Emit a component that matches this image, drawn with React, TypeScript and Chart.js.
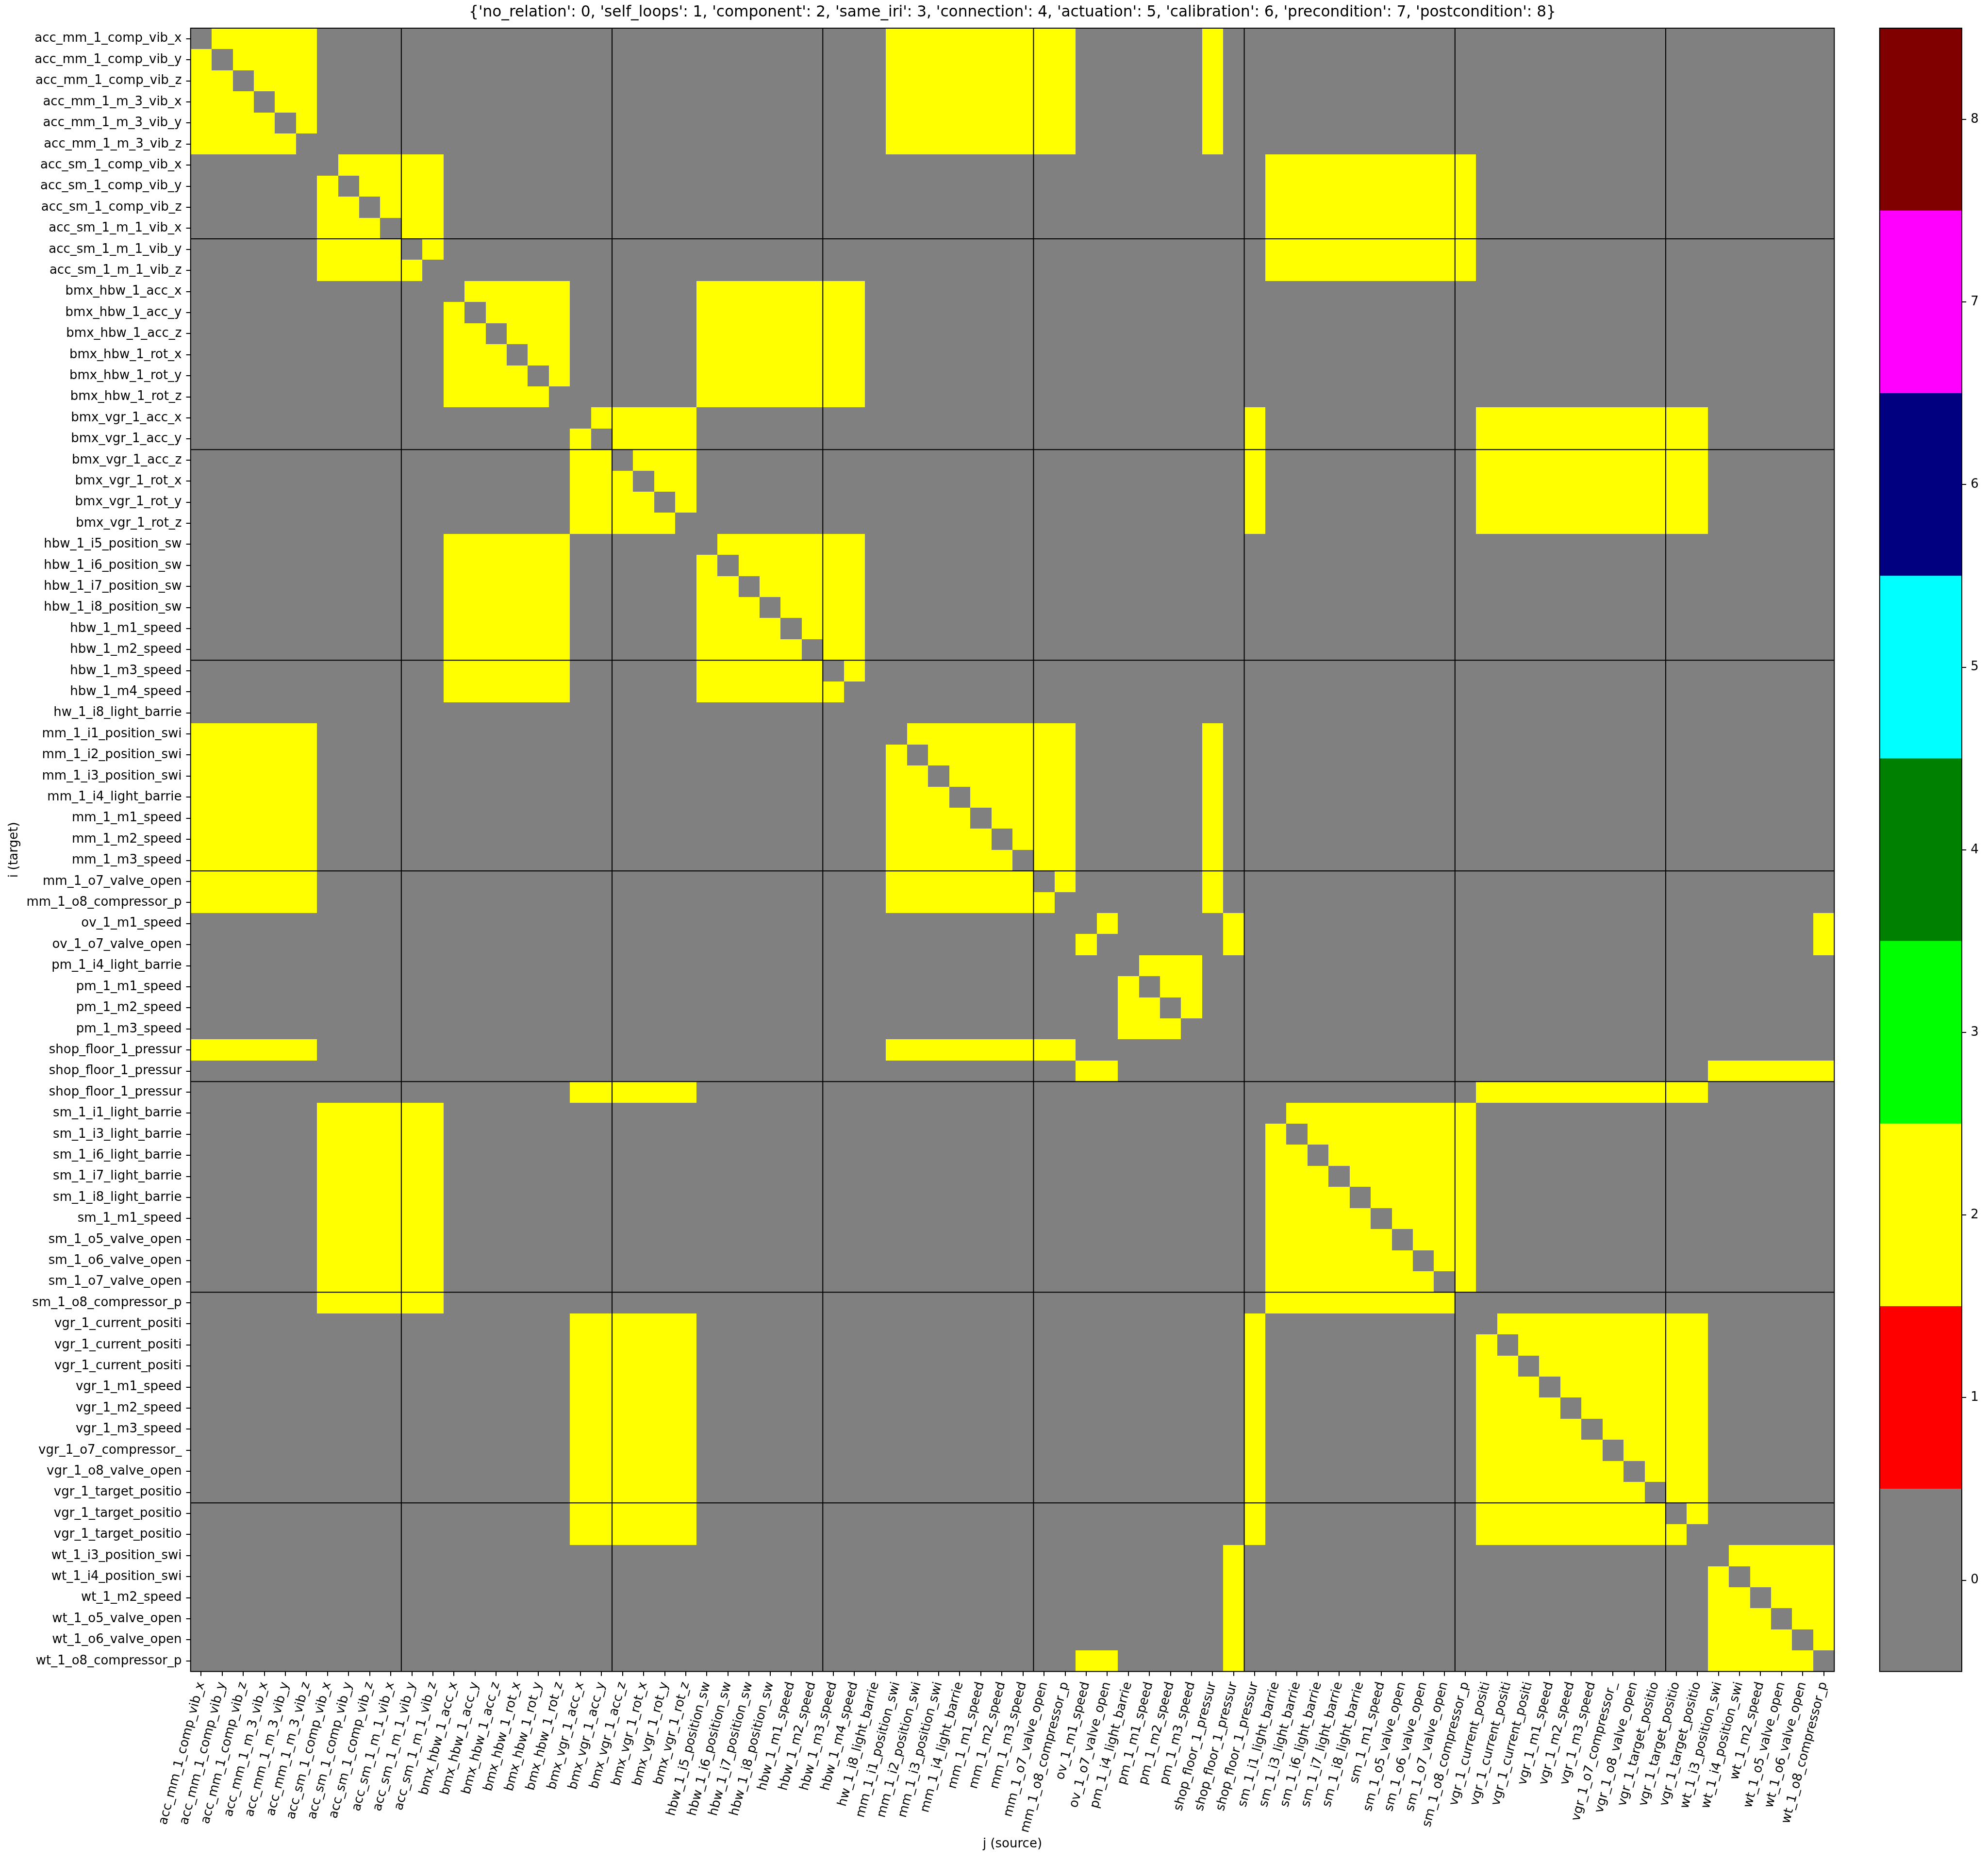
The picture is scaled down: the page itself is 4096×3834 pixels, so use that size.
import React, { useEffect, useRef } from 'react';
import { Chart, registerables } from 'chart.js';

Chart.register(...registerables);

// ---------------- data ----------------
const TITLE =
  "{'no_relation': 0, 'self_loops': 1, 'component': 2, 'same_iri': 3, 'connection': 4, 'actuation': 5, 'calibration': 6, 'precondition': 7, 'postcondition': 8}";
const X_TITLE = 'j (source)';
const Y_TITLE = 'i (target)';

const LABELS: string[] = [
  'acc_mm_1_comp_vib_x', 'acc_mm_1_comp_vib_y', 'acc_mm_1_comp_vib_z',
  'acc_mm_1_m_3_vib_x', 'acc_mm_1_m_3_vib_y', 'acc_mm_1_m_3_vib_z',
  'acc_sm_1_comp_vib_x', 'acc_sm_1_comp_vib_y', 'acc_sm_1_comp_vib_z',
  'acc_sm_1_m_1_vib_x', 'acc_sm_1_m_1_vib_y', 'acc_sm_1_m_1_vib_z',
  'bmx_hbw_1_acc_x', 'bmx_hbw_1_acc_y', 'bmx_hbw_1_acc_z',
  'bmx_hbw_1_rot_x', 'bmx_hbw_1_rot_y', 'bmx_hbw_1_rot_z',
  'bmx_vgr_1_acc_x', 'bmx_vgr_1_acc_y', 'bmx_vgr_1_acc_z',
  'bmx_vgr_1_rot_x', 'bmx_vgr_1_rot_y', 'bmx_vgr_1_rot_z',
  'hbw_1_i5_position_sw', 'hbw_1_i6_position_sw', 'hbw_1_i7_position_sw', 'hbw_1_i8_position_sw',
  'hbw_1_m1_speed', 'hbw_1_m2_speed', 'hbw_1_m3_speed', 'hbw_1_m4_speed',
  'hw_1_i8_light_barrie',
  'mm_1_i1_position_swi', 'mm_1_i2_position_swi', 'mm_1_i3_position_swi', 'mm_1_i4_light_barrie',
  'mm_1_m1_speed', 'mm_1_m2_speed', 'mm_1_m3_speed', 'mm_1_o7_valve_open', 'mm_1_o8_compressor_p',
  'ov_1_m1_speed', 'ov_1_o7_valve_open',
  'pm_1_i4_light_barrie', 'pm_1_m1_speed', 'pm_1_m2_speed', 'pm_1_m3_speed',
  'shop_floor_1_pressur', 'shop_floor_1_pressur', 'shop_floor_1_pressur',
  'sm_1_i1_light_barrie', 'sm_1_i3_light_barrie', 'sm_1_i6_light_barrie', 'sm_1_i7_light_barrie',
  'sm_1_i8_light_barrie', 'sm_1_m1_speed', 'sm_1_o5_valve_open', 'sm_1_o6_valve_open',
  'sm_1_o7_valve_open', 'sm_1_o8_compressor_p',
  'vgr_1_current_positi', 'vgr_1_current_positi', 'vgr_1_current_positi',
  'vgr_1_m1_speed', 'vgr_1_m2_speed', 'vgr_1_m3_speed', 'vgr_1_o7_compressor_', 'vgr_1_o8_valve_open',
  'vgr_1_target_positio', 'vgr_1_target_positio', 'vgr_1_target_positio',
  'wt_1_i3_position_swi', 'wt_1_i4_position_swi', 'wt_1_m2_speed', 'wt_1_o5_valve_open',
  'wt_1_o6_valve_open', 'wt_1_o8_compressor_p',
];

// relation codes, one string per row i (target); characters are columns j (source)
// (spaces only separate groups for readability)
const MATRIX_ROWS: string[] = [
  '022222 000000 000000 000000 00000000 0 222222222 00 0000 200 0000000000 00000000000 000000',
  '202222 000000 000000 000000 00000000 0 222222222 00 0000 200 0000000000 00000000000 000000',
  '220222 000000 000000 000000 00000000 0 222222222 00 0000 200 0000000000 00000000000 000000',
  '222022 000000 000000 000000 00000000 0 222222222 00 0000 200 0000000000 00000000000 000000',
  '222202 000000 000000 000000 00000000 0 222222222 00 0000 200 0000000000 00000000000 000000',
  '222220 000000 000000 000000 00000000 0 222222222 00 0000 200 0000000000 00000000000 000000',
  '000000 022222 000000 000000 00000000 0 000000000 00 0000 000 2222222222 00000000000 000000',
  '000000 202222 000000 000000 00000000 0 000000000 00 0000 000 2222222222 00000000000 000000',
  '000000 220222 000000 000000 00000000 0 000000000 00 0000 000 2222222222 00000000000 000000',
  '000000 222022 000000 000000 00000000 0 000000000 00 0000 000 2222222222 00000000000 000000',
  '000000 222202 000000 000000 00000000 0 000000000 00 0000 000 2222222222 00000000000 000000',
  '000000 222220 000000 000000 00000000 0 000000000 00 0000 000 2222222222 00000000000 000000',
  '000000 000000 022222 000000 22222222 0 000000000 00 0000 000 0000000000 00000000000 000000',
  '000000 000000 202222 000000 22222222 0 000000000 00 0000 000 0000000000 00000000000 000000',
  '000000 000000 220222 000000 22222222 0 000000000 00 0000 000 0000000000 00000000000 000000',
  '000000 000000 222022 000000 22222222 0 000000000 00 0000 000 0000000000 00000000000 000000',
  '000000 000000 222202 000000 22222222 0 000000000 00 0000 000 0000000000 00000000000 000000',
  '000000 000000 222220 000000 22222222 0 000000000 00 0000 000 0000000000 00000000000 000000',
  '000000 000000 000000 022222 00000000 0 000000000 00 0000 002 0000000000 22222222222 000000',
  '000000 000000 000000 202222 00000000 0 000000000 00 0000 002 0000000000 22222222222 000000',
  '000000 000000 000000 220222 00000000 0 000000000 00 0000 002 0000000000 22222222222 000000',
  '000000 000000 000000 222022 00000000 0 000000000 00 0000 002 0000000000 22222222222 000000',
  '000000 000000 000000 222202 00000000 0 000000000 00 0000 002 0000000000 22222222222 000000',
  '000000 000000 000000 222220 00000000 0 000000000 00 0000 002 0000000000 22222222222 000000',
  '000000 000000 222222 000000 02222222 0 000000000 00 0000 000 0000000000 00000000000 000000',
  '000000 000000 222222 000000 20222222 0 000000000 00 0000 000 0000000000 00000000000 000000',
  '000000 000000 222222 000000 22022222 0 000000000 00 0000 000 0000000000 00000000000 000000',
  '000000 000000 222222 000000 22202222 0 000000000 00 0000 000 0000000000 00000000000 000000',
  '000000 000000 222222 000000 22220222 0 000000000 00 0000 000 0000000000 00000000000 000000',
  '000000 000000 222222 000000 22222022 0 000000000 00 0000 000 0000000000 00000000000 000000',
  '000000 000000 222222 000000 22222202 0 000000000 00 0000 000 0000000000 00000000000 000000',
  '000000 000000 222222 000000 22222220 0 000000000 00 0000 000 0000000000 00000000000 000000',
  '000000 000000 000000 000000 00000000 0 000000000 00 0000 000 0000000000 00000000000 000000',
  '222222 000000 000000 000000 00000000 0 022222222 00 0000 200 0000000000 00000000000 000000',
  '222222 000000 000000 000000 00000000 0 202222222 00 0000 200 0000000000 00000000000 000000',
  '222222 000000 000000 000000 00000000 0 220222222 00 0000 200 0000000000 00000000000 000000',
  '222222 000000 000000 000000 00000000 0 222022222 00 0000 200 0000000000 00000000000 000000',
  '222222 000000 000000 000000 00000000 0 222202222 00 0000 200 0000000000 00000000000 000000',
  '222222 000000 000000 000000 00000000 0 222220222 00 0000 200 0000000000 00000000000 000000',
  '222222 000000 000000 000000 00000000 0 222222022 00 0000 200 0000000000 00000000000 000000',
  '222222 000000 000000 000000 00000000 0 222222202 00 0000 200 0000000000 00000000000 000000',
  '222222 000000 000000 000000 00000000 0 222222220 00 0000 200 0000000000 00000000000 000000',
  '000000 000000 000000 000000 00000000 0 000000000 02 0000 020 0000000000 00000000000 000002',
  '000000 000000 000000 000000 00000000 0 000000000 20 0000 020 0000000000 00000000000 000002',
  '000000 000000 000000 000000 00000000 0 000000000 00 0222 000 0000000000 00000000000 000000',
  '000000 000000 000000 000000 00000000 0 000000000 00 2022 000 0000000000 00000000000 000000',
  '000000 000000 000000 000000 00000000 0 000000000 00 2202 000 0000000000 00000000000 000000',
  '000000 000000 000000 000000 00000000 0 000000000 00 2220 000 0000000000 00000000000 000000',
  '222222 000000 000000 000000 00000000 0 222222222 00 0000 000 0000000000 00000000000 000000',
  '000000 000000 000000 000000 00000000 0 000000000 22 0000 000 0000000000 00000000000 222222',
  '000000 000000 000000 222222 00000000 0 000000000 00 0000 000 0000000000 22222222222 000000',
  '000000 222222 000000 000000 00000000 0 000000000 00 0000 000 0222222222 00000000000 000000',
  '000000 222222 000000 000000 00000000 0 000000000 00 0000 000 2022222222 00000000000 000000',
  '000000 222222 000000 000000 00000000 0 000000000 00 0000 000 2202222222 00000000000 000000',
  '000000 222222 000000 000000 00000000 0 000000000 00 0000 000 2220222222 00000000000 000000',
  '000000 222222 000000 000000 00000000 0 000000000 00 0000 000 2222022222 00000000000 000000',
  '000000 222222 000000 000000 00000000 0 000000000 00 0000 000 2222202222 00000000000 000000',
  '000000 222222 000000 000000 00000000 0 000000000 00 0000 000 2222220222 00000000000 000000',
  '000000 222222 000000 000000 00000000 0 000000000 00 0000 000 2222222022 00000000000 000000',
  '000000 222222 000000 000000 00000000 0 000000000 00 0000 000 2222222202 00000000000 000000',
  '000000 222222 000000 000000 00000000 0 000000000 00 0000 000 2222222220 00000000000 000000',
  '000000 000000 000000 222222 00000000 0 000000000 00 0000 002 0000000000 02222222222 000000',
  '000000 000000 000000 222222 00000000 0 000000000 00 0000 002 0000000000 20222222222 000000',
  '000000 000000 000000 222222 00000000 0 000000000 00 0000 002 0000000000 22022222222 000000',
  '000000 000000 000000 222222 00000000 0 000000000 00 0000 002 0000000000 22202222222 000000',
  '000000 000000 000000 222222 00000000 0 000000000 00 0000 002 0000000000 22220222222 000000',
  '000000 000000 000000 222222 00000000 0 000000000 00 0000 002 0000000000 22222022222 000000',
  '000000 000000 000000 222222 00000000 0 000000000 00 0000 002 0000000000 22222202222 000000',
  '000000 000000 000000 222222 00000000 0 000000000 00 0000 002 0000000000 22222220222 000000',
  '000000 000000 000000 222222 00000000 0 000000000 00 0000 002 0000000000 22222222022 000000',
  '000000 000000 000000 222222 00000000 0 000000000 00 0000 002 0000000000 22222222202 000000',
  '000000 000000 000000 222222 00000000 0 000000000 00 0000 002 0000000000 22222222220 000000',
  '000000 000000 000000 000000 00000000 0 000000000 00 0000 020 0000000000 00000000000 022222',
  '000000 000000 000000 000000 00000000 0 000000000 00 0000 020 0000000000 00000000000 202222',
  '000000 000000 000000 000000 00000000 0 000000000 00 0000 020 0000000000 00000000000 220222',
  '000000 000000 000000 000000 00000000 0 000000000 00 0000 020 0000000000 00000000000 222022',
  '000000 000000 000000 000000 00000000 0 000000000 00 0000 020 0000000000 00000000000 222202',
  '000000 000000 000000 000000 00000000 0 000000000 22 0000 020 0000000000 00000000000 222220',
];

// colour bar levels (relation codes) and their colours
const LEVELS: number[] = [0, 1, 2, 3, 4, 5, 6, 7, 8];
const LEVEL_COLORS: string[] = [
  '#808080', '#ff0000', '#ffff00', '#00ff00', '#008000', '#00ffff', '#000080', '#ff00ff', '#800000',
];
// block separators (every 10 entries)
const SEPARATORS: number[] = [10, 20, 30, 40, 50, 60, 70];

// ---------------- layout (px) ----------------
const W = 4096;
const H = 3834;
const FONT = 'DejaVu Sans';
const PLOT_LEFT = 392.7;
const PLOT_TOP = 58;
const PLOT_RIGHT = 3779.3;
const PLOT_BOTTOM = 3443.6;
const CB_CANVAS_LEFT = 3800;
const CB_LEFT = 3872.8;
const CB_RIGHT = 4042;
const TICK_LEN = 9.1;
const TICK_PAD = 9.1;
const TICK_FONT = 26;
const LINE_W = 2;

type Cell = { x: number; y: number; v: number };

function buildCells(): Cell[] {
  const cells: Cell[] = [];
  MATRIX_ROWS.forEach((row, i) => {
    const s = row.replace(/ /g, '');
    for (let j = 0; j < s.length; j++) cells.push({ x: j, y: i, v: Number(s[j]) });
  });
  return cells;
}

const heatmapPlugin = {
  id: 'heatmapCells',
  beforeDatasetsDraw(chart: any) {
    const { ctx } = chart;
    const xs = chart.scales.x;
    const ys = chart.scales.y;
    const data = chart.data.datasets[0].data as Cell[];
    ctx.save();
    for (const c of data) {
      const xa = xs.getPixelForValue(c.x - 0.5);
      const xb = xs.getPixelForValue(c.x + 0.5);
      const ya = ys.getPixelForValue(c.y - 0.5);
      const yb = ys.getPixelForValue(c.y + 0.5);
      const l = Math.round(Math.min(xa, xb));
      const r = Math.round(Math.max(xa, xb));
      const t = Math.round(Math.min(ya, yb));
      const b = Math.round(Math.max(ya, yb));
      ctx.fillStyle = LEVEL_COLORS[c.v];
      ctx.fillRect(l, t, r - l, b - t);
    }
    ctx.restore();
  },
  afterDatasetsDraw(chart: any) {
    const { ctx, chartArea } = chart;
    const xs = chart.scales.x;
    const ys = chart.scales.y;
    ctx.save();
    ctx.strokeStyle = '#000';
    ctx.lineWidth = LINE_W;
    ctx.beginPath();
    for (const k of SEPARATORS) {
      const px = xs.getPixelForValue(k - 0.5);
      ctx.moveTo(px, chartArea.top);
      ctx.lineTo(px, chartArea.bottom);
      const py = ys.getPixelForValue(k - 0.5);
      ctx.moveTo(chartArea.left, py);
      ctx.lineTo(chartArea.right, py);
    }
    ctx.stroke();
    ctx.strokeRect(chartArea.left, chartArea.top, chartArea.right - chartArea.left, chartArea.bottom - chartArea.top);
    ctx.restore();
  },
};

const outlinePlugin = {
  id: 'cbOutline',
  afterDatasetsDraw(chart: any) {
    const { ctx, chartArea } = chart;
    ctx.save();
    ctx.strokeStyle = '#000';
    ctx.lineWidth = LINE_W;
    ctx.strokeRect(chartArea.left, chartArea.top, chartArea.right - chartArea.left, chartArea.bottom - chartArea.top);
    ctx.restore();
  },
};

export default function App() {
  const mainRef = useRef<HTMLCanvasElement>(null);
  const cbRef = useRef<HTMLCanvasElement>(null);

  useEffect(() => {
    document.body.style.margin = '0';
    const n = LABELS.length;
    const tickFont = { family: FONT, size: TICK_FONT };

    const main = new Chart(mainRef.current as HTMLCanvasElement, {
      type: 'scatter',
      data: {
        datasets: [
          {
            data: buildCells() as any,
            pointRadius: 0,
            pointHoverRadius: 0,
          },
        ],
      },
      plugins: [heatmapPlugin],
      options: {
        animation: false,
        responsive: false,
        devicePixelRatio: 1,
        events: [],
        layout: { padding: { left: 0, top: 0, right: W - PLOT_RIGHT, bottom: 0 } },
        plugins: {
          legend: { display: false },
          tooltip: { enabled: false },
          title: {
            display: true,
            text: TITLE,
            fullSize: false,
            color: '#000',
            font: { family: FONT, size: 31.2, weight: 'normal' },
            padding: { top: 7.3, bottom: 13.3 },
          },
        },
        scales: {
          x: {
            type: 'linear',
            position: 'bottom',
            min: -0.5,
            max: n - 0.5,
            bounds: 'data',
            afterBuildTicks: (s: any) => {
              s.ticks = LABELS.map((_, i) => ({ value: i }));
            },
            afterFit: (s: any) => {
              s.height = H - PLOT_BOTTOM;
            },
            ticks: {
              autoSkip: false,
              minRotation: 75,
              maxRotation: 75,
              padding: TICK_PAD,
              color: '#000',
              font: tickFont,
              callback: (v: any) => LABELS[v as number],
            },
            grid: {
              drawOnChartArea: false,
              drawTicks: true,
              tickLength: TICK_LEN,
              color: '#000',
              lineWidth: LINE_W,
            },
            border: { display: false },
            title: {
              display: true,
              text: X_TITLE,
              color: '#000',
              font: { family: FONT, size: TICK_FONT },
              padding: { top: 0, bottom: 19.4 },
            },
          },
          y: {
            type: 'linear',
            position: 'left',
            reverse: true,
            min: -0.5,
            max: n - 0.5,
            bounds: 'data',
            afterBuildTicks: (s: any) => {
              s.ticks = LABELS.map((_, i) => ({ value: i }));
            },
            afterFit: (s: any) => {
              s.width = PLOT_LEFT;
            },
            ticks: {
              autoSkip: false,
              padding: TICK_PAD,
              color: '#000',
              font: tickFont,
              callback: (v: any) => LABELS[v as number],
            },
            grid: {
              drawOnChartArea: false,
              drawTicks: true,
              tickLength: TICK_LEN,
              color: '#000',
              lineWidth: LINE_W,
            },
            border: { display: false },
            title: {
              display: true,
              text: Y_TITLE,
              color: '#000',
              font: { family: FONT, size: TICK_FONT },
              padding: { top: 13.4, bottom: 0 },
            },
          },
        },
      } as any,
    });

    const cbW = W - CB_CANVAS_LEFT;
    const cb = new Chart(cbRef.current as HTMLCanvasElement, {
      type: 'bar',
      data: {
        labels: [''],
        datasets: LEVELS.map((lv, k) => ({
          data: [[lv - 0.5, lv + 0.5]] as any,
          backgroundColor: LEVEL_COLORS[k],
          borderWidth: 0,
          barPercentage: 1,
          categoryPercentage: 1,
          grouped: false,
        })),
      },
      plugins: [outlinePlugin],
      options: {
        animation: false,
        responsive: false,
        devicePixelRatio: 1,
        events: [],
        layout: {
          padding: {
            left: CB_LEFT - CB_CANVAS_LEFT,
            top: PLOT_TOP,
            right: 0,
            bottom: H - PLOT_BOTTOM,
          },
        },
        plugins: { legend: { display: false }, tooltip: { enabled: false }, title: { display: false } },
        scales: {
          x: { display: false },
          y: {
            type: 'linear',
            position: 'right',
            min: -0.5,
            max: 8.5,
            bounds: 'data',
            afterBuildTicks: (s: any) => {
              s.ticks = LEVELS.map((v) => ({ value: v }));
            },
            afterFit: (s: any) => {
              s.width = cbW - (CB_RIGHT - CB_CANVAS_LEFT);
            },
            ticks: {
              padding: TICK_PAD,
              color: '#000',
              font: tickFont,
              callback: (v: any) => String(v),
            },
            grid: {
              drawOnChartArea: false,
              drawTicks: true,
              tickLength: TICK_LEN,
              color: '#000',
              lineWidth: LINE_W,
            },
            border: { display: false },
          },
        },
      } as any,
    });

    return () => {
      main.destroy();
      cb.destroy();
    };
  }, []);

  return (
    <div style={{ position: 'relative', width: W, height: H, background: '#ffffff', overflow: 'hidden' }}>
      <canvas
        ref={mainRef}
        width={W}
        height={H}
        style={{ position: 'absolute', left: 0, top: 0, width: W, height: H, display: 'block' }}
      />
      <canvas
        ref={cbRef}
        width={W - CB_CANVAS_LEFT}
        height={H}
        style={{ position: 'absolute', left: CB_CANVAS_LEFT, top: 0, width: W - CB_CANVAS_LEFT, height: H, display: 'block' }}
      />
    </div>
  );
}
